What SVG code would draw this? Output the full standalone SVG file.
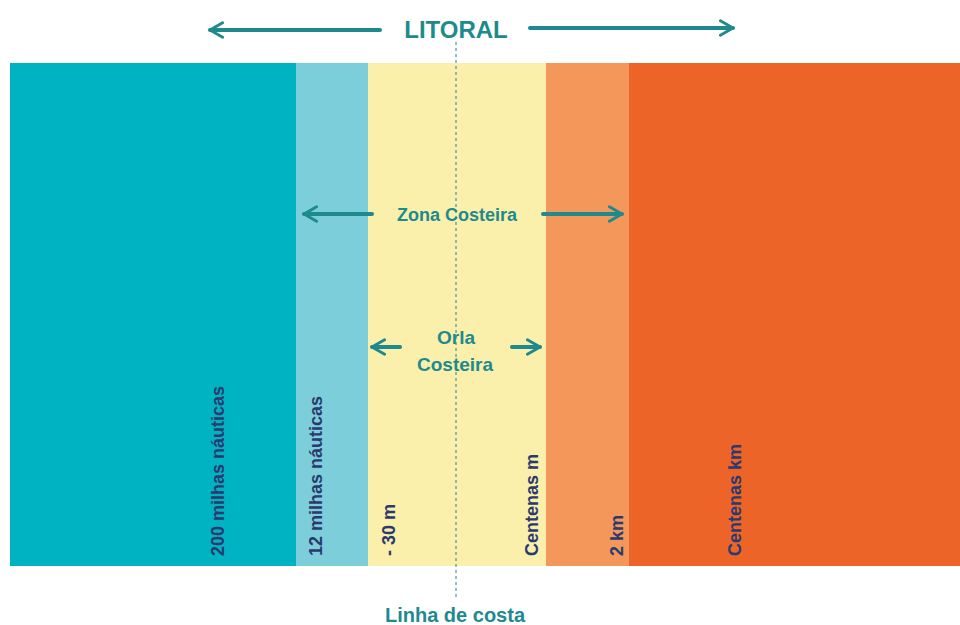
<svg xmlns="http://www.w3.org/2000/svg" width="960" height="625" viewBox="0 0 960 625">
<defs>
<style>
.t{font-family:"Liberation Sans",Arial,sans-serif;font-weight:bold;fill:#1e8a8e;text-anchor:middle}
.v{font-family:"Liberation Sans",Arial,sans-serif;font-weight:bold;fill:#2b3a6e;font-size:18px}
.ar{stroke:#1e8a8e;stroke-width:4;fill:none;stroke-linecap:round;stroke-linejoin:round}
</style>
<marker id="ah" viewBox="0 0 10 10" refX="8" refY="5" markerWidth="4.5" markerHeight="4.5" orient="auto-start-reverse" markerUnits="strokeWidth">
<path d="M1,1 L8,5 L1,9" fill="none" stroke="#1e8a8e" stroke-width="1.6" stroke-linecap="round" stroke-linejoin="round"/>
</marker>
</defs>
<rect width="960" height="625" fill="#ffffff"/>
<g id="bands">
<rect id="b1" x="10" y="63" width="286" height="503" fill="#00b3c3"/>
<rect id="b2" x="296" y="63" width="72" height="503" fill="#7ccfda"/>
<rect id="b3" x="368" y="63" width="178" height="503" fill="#faefab"/>
<rect id="b4" x="546" y="63" width="83" height="503" fill="#f4975a"/>
<rect id="b5" x="629" y="63" width="331" height="503" fill="#ec6428"/>
</g>
<g id="connectors">
<line x1="456" y1="42" x2="456" y2="598" stroke="#2a7fa0" stroke-width="1" stroke-dasharray="3,3"/>
<line class="ar" x1="380" y1="30" x2="210" y2="30" marker-end="url(#ah)"/>
<line class="ar" x1="530" y1="28" x2="733" y2="28" marker-end="url(#ah)"/>
<line class="ar" x1="372" y1="214" x2="304" y2="214" marker-end="url(#ah)"/>
<line class="ar" x1="543" y1="214" x2="622" y2="214" marker-end="url(#ah)"/>
<line class="ar" x1="400" y1="347" x2="372" y2="347" marker-end="url(#ah)"/>
<line class="ar" x1="512" y1="347" x2="540" y2="347" marker-end="url(#ah)"/>
</g>
<g id="litoral"><text class="t" x="456" y="38" font-size="24">LITORAL</text></g>
<g id="zona"><text class="t" x="457" y="221" font-size="18">Zona Costeira</text></g>
<g id="orla"><text class="t" x="456" y="344" font-size="19">Orla</text><text class="t" x="455" y="371" font-size="19">Costeira</text></g>
<g id="labels">
<text class="v" transform="translate(224,556) rotate(-90)">200 milhas náuticas</text>
<text class="v" transform="translate(322,556) rotate(-90)">12 milhas náuticas</text>
<text class="v" transform="translate(395,556) rotate(-90)">- 30 m</text>
<text class="v" transform="translate(538,556) rotate(-90)">Centenas m</text>
<text class="v" transform="translate(623,556) rotate(-90)">2 km</text>
<text class="v" transform="translate(741,556) rotate(-90)">Centenas km</text>
</g>
<g id="linha"><text class="t" x="455" y="622" font-size="20">Linha de costa</text></g>
</svg>
